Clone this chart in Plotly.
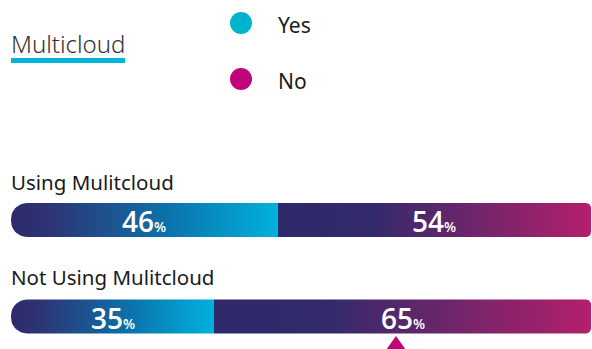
import numpy as np
import plotly.graph_objects as go

# ---- data ----
categories = ["Using Mulitcloud", "Not Using Mulitcloud"]
series = ["Yes", "No"]
yes_values = [46, 35]
no_values = [54, 65]
title_text = "Multicloud"

# ---- style ----
W, H = 592, 349
X0, X1 = 11, 591                      # pixel extent of the 0..100 scale
S = (X1 - X0) / 100.0                 # px per unit
XR = [-X0 / S, 100 + (W - X1) / S]

BAR_TOPS = [203, 299.5]
BAR_H = 34
R_LEFT, R_RIGHT = 16, 5
LABEL_Y = [182, 277]

NAVY = "#2e2a6b"
YES_COLOR = "#00b3cc"
NO_COLOR = "#c0047a"
YES_SCALE = [[0, NAVY], [0.15, "#2d3475"], [0.6, "#0a74ad"], [1, "#00b2dc"]]
NO_SCALE = [[0, NAVY], [0.3, "#322a6b"], [1, "#b41f6b"]]
TEXT_FONT = "Noto Sans"
NUM_FONT = "Open Sans"


def corner(cx, cy, r, a0, a1, n=12):
    a = np.radians(np.linspace(a0, a1, n))
    return list(cx + r * np.cos(a) / S), list(cy + r * np.sin(a))


def seg_path(x0, x1, top, h, rl, rr):
    bot = top + h
    xs, ys = [], []
    parts = [
        (x1 - rr / S, top + rr, rr, -90, 0),
        (x1 - rr / S, bot - rr, rr, 0, 90),
        (x0 + rl / S, bot - rl, rl, 90, 180),
        (x0 + rl / S, top + rl, rl, 180, 270),
    ]
    for cx, cy, r, a0, a1 in parts:
        px, py = corner(cx, cy, r, a0, a1)
        xs += px
        ys += py
    xs.append(xs[0])
    ys.append(ys[0])
    return xs, ys


fig = go.Figure()
annotations = []

for i, cat in enumerate(categories):
    top = BAR_TOPS[i]
    vals = [yes_values[i], no_values[i]]
    scales = [YES_SCALE, NO_SCALE]
    start = 0
    for j, v in enumerate(vals):
        end = start + v
        rl = R_LEFT if j == 0 else 0
        rr = R_RIGHT if j == len(vals) - 1 else 0
        xs, ys = seg_path(start, end, top, BAR_H, rl, rr)
        fig.add_trace(go.Scatter(
            x=xs, y=ys, mode="lines", fill="toself",
            fillgradient=dict(type="horizontal", colorscale=scales[j]),
            line=dict(width=0), hoverinfo="skip", showlegend=False,
            name=f"{cat} - {series[j]}",
        ))
        annotations.append(dict(
            x=(start + end) / 2, y=top + BAR_H / 2 + 1, xref="x", yref="y",
            text=f"{v}<span style='font-size:14px'>%</span>",
            showarrow=False, xanchor="center", yanchor="middle",
            font=dict(family=NUM_FONT, size=28, color="white", weight=600),
        ))
        start = end
    annotations.append(dict(
        x=X0 / W - 0.004, y=LABEL_Y[i], xref="paper", yref="y",
        text=cat, showarrow=False, xanchor="left", yanchor="middle",
        font=dict(family=TEXT_FONT, size=20.5, color="#1a1a1a"),
    ))

# custom legend
leg_y = [23, 79]
fig.add_trace(go.Scatter(
    x=[(241 - X0) / S] * 2, y=leg_y, mode="markers",
    marker=dict(size=22, color=[YES_COLOR, NO_COLOR]),
    hoverinfo="skip", showlegend=False, text=series,
))
for k, s in enumerate(series):
    annotations.append(dict(
        x=(276 - X0) / S, y=leg_y[k] + 2, xref="x", yref="y", text=s,
        showarrow=False, xanchor="left", yanchor="middle",
        font=dict(family=TEXT_FONT, size=21, color="#1a1a1a"),
    ))

# title
annotations.append(dict(
    x=X0 / W - 0.004, y=43, xref="paper", yref="y", text=title_text,
    showarrow=False, xanchor="left", yanchor="middle",
    font=dict(family=TEXT_FONT, size=24, color="#333333", weight=300),
))

shapes = [
    dict(type="rect", xref="x", yref="y", x0=0, x1=(125 - X0) / S, y0=58, y1=63,
         fillcolor="#00b5dc", line=dict(width=0)),
    dict(type="path", xref="x", yref="y",
         path=f"M {(386 - X0) / S},{350} L {(396 - X0) / S},{336} L {(406 - X0) / S},{350} Z",
         fillcolor=NO_COLOR, line=dict(width=0)),
]

fig.update_layout(
    width=W, height=H, autosize=False,
    margin=dict(l=0, r=0, t=0, b=0),
    paper_bgcolor="white", plot_bgcolor="white",
    xaxis=dict(range=XR, visible=False, fixedrange=True),
    yaxis=dict(range=[H, 0], visible=False, fixedrange=True),
    annotations=annotations, shapes=shapes, showlegend=False,
)

fig.write_html("out.html")
